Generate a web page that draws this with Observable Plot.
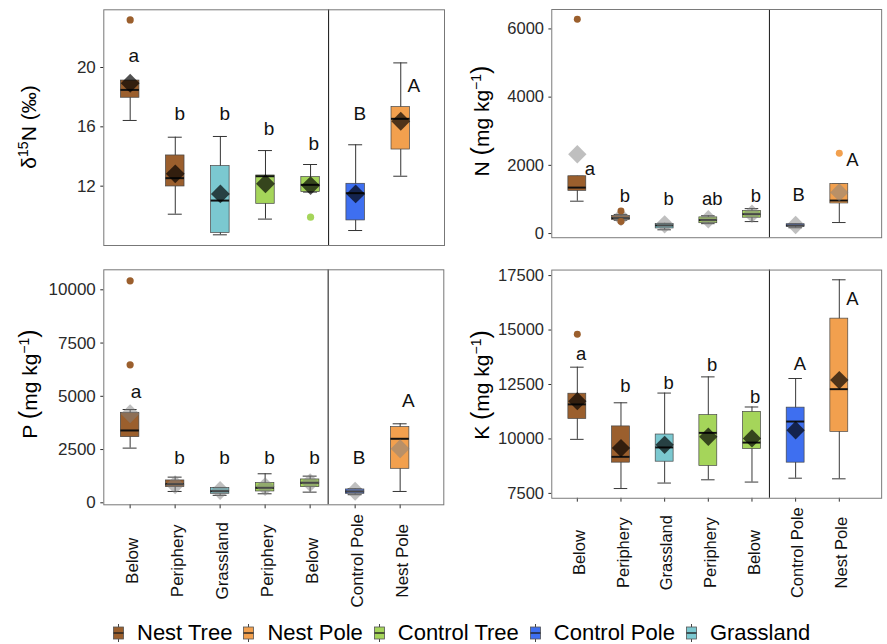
<!DOCTYPE html>
<html>
<head>
<meta charset="utf-8">
<script src="https://cdn.jsdelivr.net/npm/d3@7"></script>
<script src="https://cdn.jsdelivr.net/npm/@observablehq/plot@0.6"></script>
<style>
  html, body { margin: 0; padding: 0; background: #fff; }
  #wrap { position: relative; width: 887px; height: 644px; overflow: hidden;
          font-family: "Liberation Sans", Arial, Helvetica, sans-serif; }
  .panel { position: absolute; }
  .ytitle { position: absolute; transform: translate(-50%, -50%) rotate(-90deg);
            white-space: nowrap; font-size: 21px; color: #000; line-height: 1; }
  .ytitle sup { font-size: 14px; vertical-align: 0.55em; line-height: 0; }
  .ytitle .par { font-size: 25px; }
  #legend { position: absolute; left: 110px; top: 620px; height: 26px; display: flex;
            align-items: center; font-size: 22px; color: #000; white-space: nowrap; }
  .item { display: flex; align-items: center; margin-right: 8px; }
  .item svg { margin-right: 10px; }
</style>
</head>
<body>
<div id="wrap">
  <div class="ytitle" style="left:28px; top:127px;">δ<sup>15</sup>N (‰)</div>
  <div class="ytitle" style="left:480px; top:121px;">N <span class="par">(</span>mg kg<sup>−1</sup><span class="par">)</span></div>
  <div class="ytitle" style="left:28px; top:384px;">P <span class="par">(</span>mg kg<sup>−1</sup><span class="par">)</span></div>
  <div class="ytitle" style="left:480px; top:385px;">K <span class="par">(</span>mg kg<sup>−1</sup><span class="par">)</span></div>
  <div id="legend"></div>
</div>
<script>
// ---------- categories ----------
const categories = ["Below", "Periphery", "Grassland", "Periphery", "Below", "Control Pole", "Nest Pole"];
const groups = ["Nest Tree", "Nest Tree", "Grassland", "Control Tree", "Control Tree", "Control Pole", "Nest Pole"];
const groupNames = ["Nest Tree", "Nest Pole", "Control Tree", "Control Pole", "Grassland"];
const groupColors = ["#9b5f2d", "#f2a04e", "#a5d55a", "#3e6ff0", "#7bc8d0"];

// ---------- δ15N (‰) ----------
const d15N_lo   = [16.43, 10.11, 8.72, 9.78, 11.60, 9.01, 12.67];
const d15N_q1   = [17.96, 11.98, 8.85, 10.81, 11.60, 9.69, 14.47];
const d15N_med  = [18.49, 12.54, 11.03, 12.67, 12.09, 11.53, 16.54];
const d15N_q3   = [19.12, 14.07, 13.35, 12.72, 12.61, 12.16, 17.33];
const d15N_hi   = [19.12, 15.30, 15.35, 14.40, 13.46, 14.79, 20.31];
const d15N_mean = [18.94, 12.83, 11.48, 12.16, 12.04, 11.48, 16.38];
const d15N_out  = [[23.21], [], [], [], [9.91], [], []];
const d15N_letters = ["a", "b", "b", "b", "b", "B", "A"];
const d15N_letterY = [20.8, 16.9, 16.9, 15.87, 14.85, 16.88, 18.79];
const d15N_letterNudge = [0.08, 0.1, 0.1, 0.08, 0.07, 0.09, 0.29];
const d15N_ticks = [12, 16, 20];

// ---------- N (mg kg-1) ----------
const N_lo   = [949, 390, 110, 290, 351, 170, 323];
const N_q1   = [1253, 400, 150, 304, 465, 200, 883];
const N_med  = [1348, 456, 240, 399, 570, 237, 968];
const N_q3   = [1680, 520, 280, 475, 665, 275, 1453];
const N_hi   = [1680, 560, 300, 522, 731, 290, 1453];
const N_mean = [2326, 480, 270, 420, 580, 250, 1206];
const N_out  = [[6285], [665, 351], [], [], [], [], [2354]];
const N_letters = ["a", "b", "b", "ab", "b", "B", "A"];
const N_letterY = [1900, 1110, 1016, 1025, 1110, 1139, 2165];
const N_letterNudge = [0.29, 0.09, 0.09, 0.09, 0.09, 0.07, 0.3];
const N_ticks = [0, 2000, 4000, 6000];

// ---------- P (mg kg-1) ----------
const P_lo   = [2567, 532, 350, 423, 501, 380, 532];
const P_q1   = [3083, 735, 423, 532, 735, 423, 1596];
const P_med  = [3396, 876, 548, 704, 939, 532, 3005];
const P_q3   = [4225, 1049, 689, 923, 1096, 626, 3553];
const P_hi   = [4380, 1205, 720, 1362, 1252, 660, 3709];
const P_mean = [4179, 850, 579, 760, 950, 540, 2535];
const P_out  = [[10423, 6479], [], [], [], [], [], []];
const P_letters = ["a", "b", "b", "b", "b", "B", "A"];
const P_letterY = [5196, 2113, 2113, 2113, 2113, 2113, 4773];
const P_letterNudge = [0.13, 0.1, 0.1, 0.1, 0.1, 0.09, 0.18];
const P_ticks = [0, 2500, 5000, 7500, 10000];

// ---------- K (mg kg-1) ----------
const K_lo   = [9981, 7723, 7975, 8124, 8020, 8198, 8169];
const K_q1   = [10918, 8912, 8956, 8763, 9536, 8912, 10323];
const K_med  = [11586, 9179, 9610, 10279, 9833, 10799, 12285];
const K_q3   = [12077, 10576, 10204, 11096, 11244, 11438, 15524];
const K_hi   = [13295, 11660, 12106, 12849, 11467, 12775, 17307];
const K_mean = [11735, 9580, 9729, 10100, 10026, 10398, 12701];
const K_out  = [[14811], [], [], [], [], [], []];
const K_letters = ["a", "b", "b", "b", "b", "A", "A"];
const K_letterY = [13889, 12404, 12582, 13399, 11928, 13414, 16415];
const K_letterNudge = [0.09, 0.1, 0.09, 0.09, 0.07, 0.1, 0.3];
const K_ticks = [7500, 10000, 12500, 15000, 17500];

const positions = categories.map((_, i) => i + 1);
const separatorAt = [5.4];

function boxPanel(o) {
  const rows = categories.map((c, i) => ({
    pos: i + 1, cat: c, group: groups[i],
    lo: o.lo[i], q1: o.q1[i], med: o.med[i], q3: o.q3[i], hi: o.hi[i], mean: o.mean[i],
    letter: o.letters[i], ly: o.letterY[i], lx: i + 1 + o.nudge[i]
  }));
  const outs = rows.flatMap((r, i) => o.out[i].map(v => ({pos: r.pos, group: r.group, v})));
  const bw = 0.205, cw = 0.155;
  return Plot.plot({
    width: o.width, height: o.height,
    marginLeft: o.m[0], marginRight: o.m[1], marginTop: o.m[2], marginBottom: o.m[3],
    style: {fontSize: "17px", fontFamily: "'Liberation Sans', Arial, sans-serif", color: "#2a2a2a", background: "transparent", overflow: "visible"},
    x: o.showX
      ? {domain: [0.415, 7.97], ticks: positions, tickSize: 4, tickFormat: () => "", label: null}
      : {domain: [0.415, 7.97], axis: null},
    y: {domain: o.yDomain, ticks: o.ticks, tickSize: 3, tickPadding: 5, tickFormat: d => String(d), label: null},
    color: {domain: groupNames, range: groupColors},
    marks: [
      Plot.ruleX(rows, {x: "pos", y1: "lo", y2: "hi", stroke: "#333", strokeWidth: 1}),
      Plot.ruleY(rows, {y: "lo", x1: d => d.pos - cw, x2: d => d.pos + cw, stroke: "#333", strokeWidth: 1}),
      Plot.ruleY(rows, {y: "hi", x1: d => d.pos - cw, x2: d => d.pos + cw, stroke: "#333", strokeWidth: 1}),
      Plot.rect(rows, {x1: d => d.pos - bw, x2: d => d.pos + bw, y1: "q1", y2: "q3", fill: "group", stroke: "#444", strokeWidth: 0.7}),
      Plot.ruleY(rows, {y: "med", x1: d => d.pos - bw, x2: d => d.pos + bw, stroke: "#111", strokeWidth: 2}),
      Plot.dot(rows, {x: "pos", y: "mean", symbol: "diamond2", r: 8.5, fill: o.meanFill, fillOpacity: o.meanOpacity, stroke: "none"}),
      Plot.dot(outs, {x: "pos", y: "v", fill: "group", r: 3.6, stroke: "none"}),
      Plot.text(rows, {x: "lx", y: "ly", text: "letter", fontSize: 19, fill: "#111"}),
      Plot.ruleX(separatorAt, {stroke: "#111", strokeWidth: 1}),
      Plot.frame({stroke: "#777", strokeWidth: 1}),
      o.showX ? Plot.text(rows, {x: "pos", frameAnchor: "bottom", text: "cat", rotate: -90, dy: 56, dx: 8, fontSize: 17, fill: "#111"}) : null
    ]
  });
}

const wrap = document.getElementById("wrap");
function place(svg, left, top) {
  const d = document.createElement("div");
  d.className = "panel";
  d.style.left = left + "px";
  d.style.top = top + "px";
  d.appendChild(svg);
  wrap.insertBefore(d, wrap.firstChild);
}

place(boxPanel({
  lo: d15N_lo, q1: d15N_q1, med: d15N_med, q3: d15N_q3, hi: d15N_hi, mean: d15N_mean, out: d15N_out,
  letters: d15N_letters, letterY: d15N_letterY, nudge: d15N_letterNudge, ticks: d15N_ticks,
  yDomain: [8.0, 23.89], meanFill: "#000", meanOpacity: 0.68, showX: false,
  width: 450, height: 255, m: [103.3, 6, 9.3, 10]
}), 0, 0);

place(boxPanel({
  lo: N_lo, q1: N_q1, med: N_med, q3: N_q3, hi: N_hi, mean: N_mean, out: N_out,
  letters: N_letters, letterY: N_letterY, nudge: N_letterNudge, ticks: N_ticks,
  yDomain: [-122, 6569], meanFill: "#808080", meanOpacity: 0.5, showX: false,
  width: 450, height: 255, m: [104.3, 6, 9.3, 10.7]
}), 450, 0);

place(boxPanel({
  lo: P_lo, q1: P_q1, med: P_med, q3: P_q3, hi: P_hi, mean: P_mean, out: P_out,
  letters: P_letters, letterY: P_letterY, nudge: P_letterNudge, ticks: P_ticks,
  yDomain: [-94, 10939], meanFill: "#808080", meanOpacity: 0.5, showX: true,
  width: 450, height: 389, m: [103.3, 6.7, 14.3, 139.7]
}), 0, 255);

place(boxPanel({
  lo: K_lo, q1: K_q1, med: K_med, q3: K_q3, hi: K_hi, mean: K_mean, out: K_out,
  letters: K_letters, letterY: K_letterY, nudge: K_letterNudge, ticks: K_ticks,
  yDomain: [7277, 17754], meanFill: "#000", meanOpacity: 0.68, showX: true,
  width: 450, height: 389, m: [104.3, 6, 15, 139]
}), 450, 255);

// ---------- legend ----------
const legend = document.getElementById("legend");
groupNames.forEach((name, i) => {
  const item = document.createElement("div");
  item.className = "item";
  item.innerHTML =
    `<svg width="17" height="18" viewBox="0 0 17 18">
       <line x1="8.5" x2="8.5" y1="0" y2="18" stroke="#444" stroke-width="1"/>
       <rect x="3.5" y="3" width="10" height="12" fill="${groupColors[i]}" stroke="#555" stroke-width="0.8"/>
       <line x1="3.5" x2="13.5" y1="9" y2="9" stroke="#222" stroke-width="1.4"/>
     </svg><span>${name}</span>`;
  legend.appendChild(item);
});
</script>
</body>
</html>
